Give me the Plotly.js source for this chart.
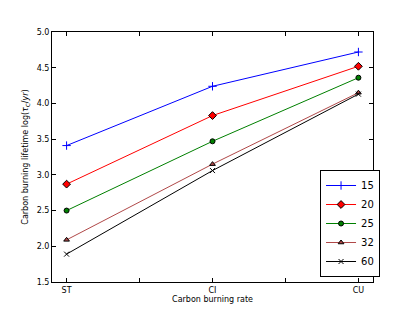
<!DOCTYPE html>
<html><head><meta charset="utf-8">
<script src="https://cdn.plot.ly/plotly-3.0.1.min.js"></script>
<style>html,body{margin:0;padding:0;background:#fff}</style>
</head><body><div id="c" style="width:415px;height:313px"></div>
<script>
const categories = ['ST', 'CI', 'CU'];
const masses = ['15', '20', '25', '32', '60'];
const s15 = [3.41, 4.24, 4.72];
const s20 = [2.87, 3.83, 4.52];
const s25 = [2.50, 3.47, 4.36];
const s32 = [2.09, 3.15, 4.15];
const s60 = [1.89, 3.06, 4.13];
const series = [s15, s20, s25, s32, s60];
const colors = ['#0000ff', '#ff0000', '#008000', '#b04848', '#000000'];
const symbols = ['cross-thin', 'diamond', 'circle', 'triangle-up', 'x-thin'];
const sizes = [6, 6, 5, 5, 5];
const xpos = categories.map((c, i) => i);
const traces = series.map((s, i) => ({
  x: xpos, y: s, name: masses[i], mode: 'lines+markers', type: 'scatter',
  line: {color: colors[i], width: 1},
  marker: {symbol: symbols[i], size: sizes[i], color: colors[i],
           line: {color: i === 1 || i === 2 || i === 3 ? '#000' : colors[i], width: 1}}
}));
const layout = {
  width: 415, height: 313,
  margin: {l: 52, r: 42, t: 32, b: 31},
  paper_bgcolor: '#fff', plot_bgcolor: '#fff',
  font: {family: 'DejaVu Sans', size: 8, color: '#000'},
  showlegend: true,
  xaxis: {
    range: [-0.1, 2.1], tickvals: [0, 0.5, 1, 1.5, 2], ticktext: ['ST', '', 'CI', '', 'CU'],
    ticks: 'inside', ticklen: 4, tickcolor: '#000', showline: true, linecolor: '#000', linewidth: 1,
    mirror: 'ticks', showgrid: false, zeroline: false,
    title: {text: 'Carbon burning rate', font: {size: 8}, standoff: 2}
  },
  yaxis: {
    range: [1.5, 5.0], dtick: 0.5, tickformat: '.1f',
    ticks: 'inside', ticklen: 4, tickcolor: '#000', showline: true, linecolor: '#000', linewidth: 1,
    mirror: 'ticks', showgrid: false, zeroline: false,
    title: {text: 'Carbon burning lifetime log(<i>τ</i><sub>C</sub>/<i>yr</i>)', font: {size: 8}, standoff: 6}
  },
  legend: {
    x: 0.835, y: 0.02, xanchor: 'left', yanchor: 'bottom',
    bordercolor: '#000', borderwidth: 1, bgcolor: '#fff',
    font: {size: 10}, tracegroupgap: 0, itemwidth: 30
  }
};
Plotly.newPlot('c', traces, layout, {displayModeBar: false, staticPlot: true});
</script></body></html>
